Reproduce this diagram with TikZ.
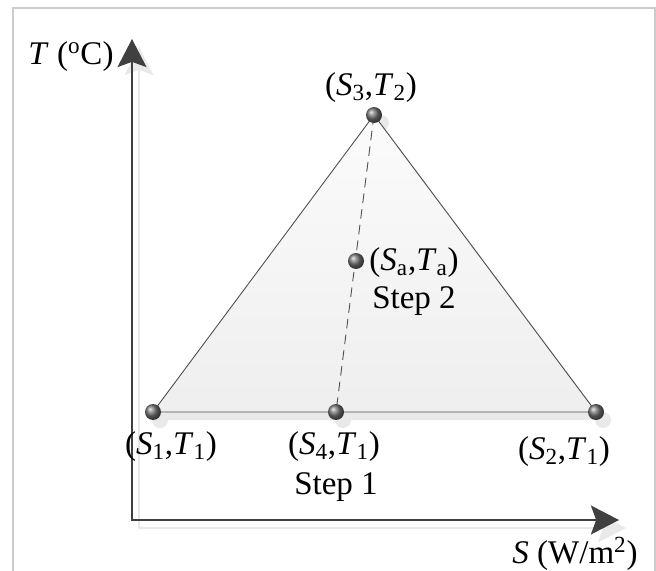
\documentclass[tikz,border=0pt]{standalone}
\usepackage{fontspec}
\setmainfont{Liberation Serif}
\usetikzlibrary{arrows.meta}

\newcommand{\ST}[2]{(\textit{S}\textsubscript{#1},\textit{T}\textsubscript{#2})}

\begin{document}
\begin{tikzpicture}[
  x=0.02cm, y=-0.02cm,
  sh/.style={shift={(7,8)}},
  shadow/.style={draw=none, fill=gray!17},
  axis/.style={draw=black!75, line width=0.9pt, {Stealth[length=16pt, width=16.5pt, inset=3pt]}-{Stealth[length=16pt, width=16.5pt, inset=3pt]}},
  tri/.style={draw=black!70, line width=0.5pt, top color=gray!3, bottom color=gray!13},
  guide/.style={draw=black!70, line width=0.5pt, dash pattern=on 5.5pt off 3.5pt},
  ball/.style={circle, inner sep=0pt, minimum size=0.32cm, shading=ball, ball color=black!55},
  lbl/.style={font=\fontsize{18.8}{22}\selectfont, inner sep=0pt},
]
\useasboundingbox (0,0) rectangle (656,571);
% frame
\draw[gray!40, line width=0.6pt] (13,571) -- (13,8) -- (655,8) -- (655,571);

% corners and points
\coordinate (o) at (132,520);
\coordinate (ty) at (132,39);
\coordinate (sx) at (619,520);
\coordinate (p1) at (153,412);
\coordinate (p2) at (596,412);
\coordinate (p3) at (374,115);
\coordinate (p4) at (336,412);
\coordinate (pa) at (356,261);

% shadows
\fill[shadow] ([sh]p1) -- ([sh]p2) -- ([sh]p3) -- cycle;
\draw[axis, draw=gray!17] ([sh]ty) -- ([sh]o) -- ([sh]sx);
\draw[guide, draw=gray!17] ([sh]p3) -- ([sh]p4);
\foreach \p in {p1,p2,p3,p4,pa}
  \fill[shadow] ([sh]\p) circle (8);

% triangle and step line
\draw[tri] (p1) -- (p2) -- (p3) -- cycle;
\draw[guide] (p3) -- (p4);

% axes
\draw[axis] (ty) -- (o) -- (sx);

% points
\foreach \p in {p1,p2,p3,p4,pa}
  \node[ball] (b\p) at (\p) {};

% labels
\node[lbl] (l3) at (371,88) {\ST{3}{2}};
\node[lbl, anchor=west] (la) at (369,263) {(\textit{S}\textsubscript{a},\textit{T}\textsubscript{a})};
\node[lbl] (st2) at (414,301) {Step 2};
\node[lbl] (l1) at (171,447) {\ST{1}{1}};
\node[lbl] (l4) at (334,447) {\ST{4}{1}};
\node[lbl] (st1) at (336,487) {Step 1};
\node[lbl] (l2) at (564,452) {\ST{2}{1}};
\node[lbl] (ylab) at (71,57) {\textit{T} (\textsuperscript{o}C)};
\node[lbl] (xlab) at (575,554) {\textit{S} (W/m\textsuperscript{2})};
\end{tikzpicture}
\end{document}
